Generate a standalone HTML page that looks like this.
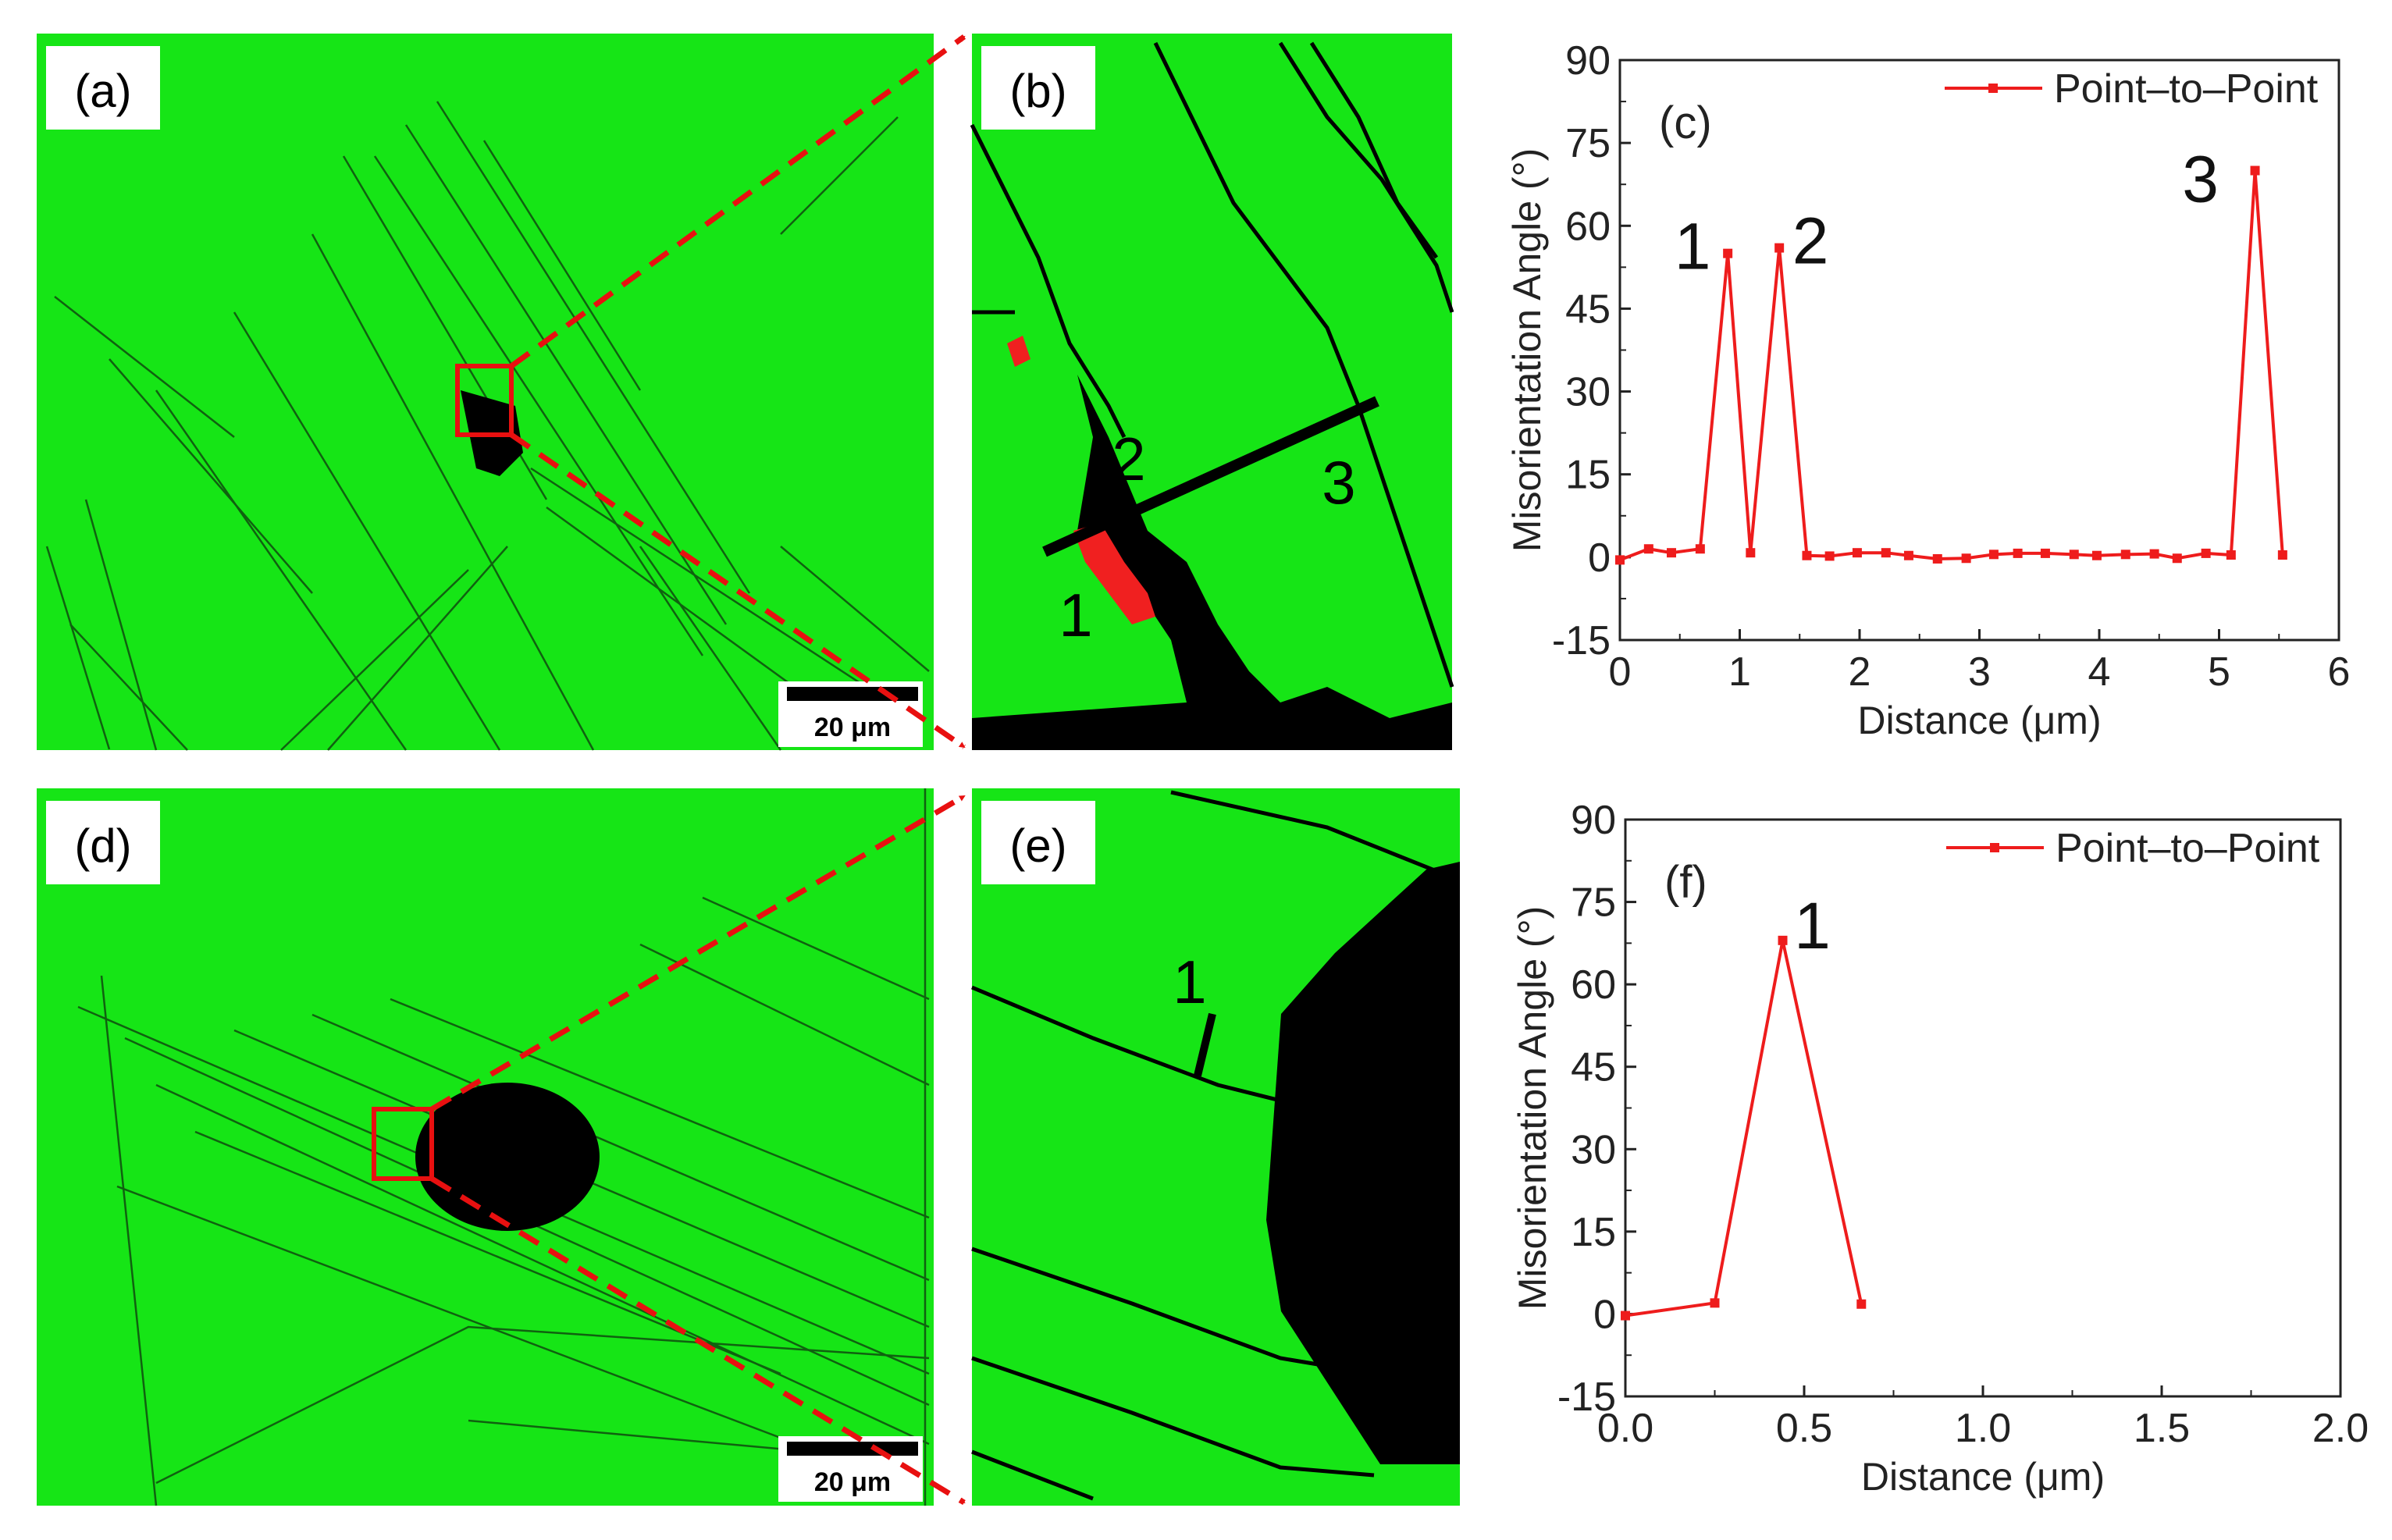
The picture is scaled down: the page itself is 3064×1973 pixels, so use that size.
<!DOCTYPE html>
<html><head><meta charset="utf-8">
<style>
html,body{margin:0;padding:0;background:#fff;}
svg{display:block;}
text{font-family:"Liberation Sans",sans-serif;}
</style></head>
<body>
<svg id="fig" width="3064" height="1973" viewBox="0 0 3064 1973" xmlns="http://www.w3.org/2000/svg">
<defs>
<marker id="arr" markerWidth="8" markerHeight="8" refX="6" refY="4" orient="auto" markerUnits="userSpaceOnUse"><path d="M0,0 L8,4 L0,8 Z" fill="#e81010"/></marker>
</defs>

<!-- Panel (a) -->
<g>
<rect x="47" y="43" width="1149" height="918" fill="#16e516"/>
<g stroke="#0f4a0f" stroke-width="2.5" fill="none" opacity="0.85">
<path d="M560,130 L960,760"/><path d="M520,160 L930,800"/><path d="M480,200 L900,840"/>
<path d="M400,300 L760,961"/><path d="M300,400 L640,961"/><path d="M200,500 L520,961"/>
<path d="M140,460 L400,760"/><path d="M70,380 L300,560"/><path d="M110,640 L200,961"/>
<path d="M680,600 L1140,900"/><path d="M700,650 L1100,940"/><path d="M650,700 L420,961"/>
<path d="M600,730 L360,961"/><path d="M1000,300 L1150,150"/><path d="M60,700 L140,960"/>
<path d="M440,200 L700,640"/><path d="M620,180 L820,500"/><path d="M90,800 L240,961"/>
<path d="M820,700 L1000,961"/><path d="M1000,700 L1190,860"/>
</g>
<path d="M590,500 L660,520 L670,580 L640,610 L610,600 Z" fill="#000"/>
<rect x="586" y="469" width="69" height="88" fill="none" stroke="#e81010" stroke-width="6"/>
<rect x="59" y="59" width="146" height="107" fill="#fff"/>
<text x="132" y="137" font-size="60" text-anchor="middle" fill="#000">(a)</text>
<rect x="997" y="873" width="185" height="84" fill="#fff"/>
<rect x="1008" y="880" width="168" height="18" fill="#000"/>
<text x="1092" y="943" font-size="34" font-weight="bold" text-anchor="middle">20 μm</text>
</g>
<line x1="655" y1="469" x2="1235" y2="47" stroke="#e81010" stroke-width="7" stroke-dasharray="28,16" marker-end="url(#arr)"/>
<line x1="655" y1="557" x2="1235" y2="957" stroke="#e81010" stroke-width="7" stroke-dasharray="28,16" marker-end="url(#arr)"/>

<!-- Panel (b) -->
<g>
<rect x="1245" y="43" width="615" height="918" fill="#16e516"/>
<g stroke="#000" stroke-width="5" fill="none">
<path d="M1245,160 L1330,330 L1370,440 L1420,520 L1440,560"/>
<path d="M1480,55 L1580,260 L1640,340 L1700,420 L1740,520 L1820,760 L1860,880"/>
<path d="M1640,55 L1700,150 L1770,230 L1840,340 L1860,400"/>
<path d="M1680,55 L1740,150 L1790,260 L1840,330"/>
<path d="M1245,400 L1300,400"/>
</g>
<path d="M1380,480 L1400,560 L1390,620 L1380,680 L1420,700 L1460,760 L1500,820 L1520,900 L1245,920 L1245,961 L1860,961 L1860,900 L1780,920 L1700,880 L1640,900 L1600,860 L1560,800 L1520,720 L1470,680 L1420,560 Z" fill="#000"/>
<path d="M1375,680 L1410,670 L1440,720 L1470,760 L1480,790 L1450,800 L1420,760 L1390,720 Z" fill="#f02020"/>
<path d="M1290,440 L1310,430 L1320,460 L1300,470 Z" fill="#f02020"/>
<line x1="1338" y1="707" x2="1764" y2="514" stroke="#000" stroke-width="14"/>
<text x="1378" y="815" font-size="78" text-anchor="middle">1</text>
<text x="1446" y="615" font-size="78" text-anchor="middle">2</text>
<text x="1715" y="645" font-size="78" text-anchor="middle">3</text>
<rect x="1257" y="59" width="146" height="107" fill="#fff"/>
<text x="1330" y="137" font-size="60" text-anchor="middle">(b)</text>
</g>

<!-- Panel (d) -->
<g>
<rect x="47" y="1010" width="1149" height="919" fill="#16e516"/>
<g stroke="#0f4a0f" stroke-width="2.5" fill="none" opacity="0.85">
<path d="M100,1290 L1190,1760"/><path d="M160,1330 L1190,1800"/><path d="M200,1390 L1190,1850"/>
<path d="M300,1320 L1190,1700"/><path d="M400,1300 L1190,1640"/><path d="M500,1280 L1190,1560"/>
<path d="M820,1210 L1190,1390"/><path d="M900,1150 L1190,1280"/><path d="M150,1520 L1100,1880"/>
<path d="M130,1250 L200,1929"/><path d="M1185,1010 L1185,1929"/><path d="M200,1900 L600,1700 L1190,1740"/>
<path d="M250,1450 L1000,1760"/><path d="M600,1820 L1150,1870"/>
</g>
<ellipse cx="650" cy="1482" rx="118" ry="95" fill="#000"/>
<rect x="479" y="1421" width="74" height="89" fill="none" stroke="#e81010" stroke-width="6"/>
<rect x="59" y="1026" width="146" height="107" fill="#fff"/>
<text x="132" y="1104" font-size="60" text-anchor="middle">(d)</text>
<rect x="997" y="1840" width="185" height="84" fill="#fff"/>
<rect x="1008" y="1847" width="168" height="18" fill="#000"/>
<text x="1092" y="1910" font-size="34" font-weight="bold" text-anchor="middle">20 μm</text>
</g>
<line x1="553" y1="1421" x2="1235" y2="1020" stroke="#e81010" stroke-width="7" stroke-dasharray="28,16" marker-end="url(#arr)"/>
<line x1="553" y1="1510" x2="1235" y2="1925" stroke="#e81010" stroke-width="7" stroke-dasharray="28,16" marker-end="url(#arr)"/>

<!-- Panel (e) -->
<g>
<rect x="1245" y="1010" width="625" height="919" fill="#16e516"/>
<g stroke="#000" stroke-width="5" fill="none">
<path d="M1500,1015 L1700,1060 L1850,1120"/>
<path d="M1245,1265 L1400,1330 L1560,1390 L1680,1420"/>
<path d="M1245,1600 L1450,1670 L1640,1740 L1700,1750"/>
<path d="M1245,1740 L1450,1810 L1640,1880 L1760,1890"/>
<path d="M1245,1860 L1400,1920"/>
</g>
<path d="M1870,1104 L1827,1114 L1710,1221 L1641,1299 L1622,1563 L1641,1680 L1768,1876 L1870,1876 Z" fill="#000"/>
<line x1="1534" y1="1378" x2="1553" y2="1299" stroke="#000" stroke-width="10"/>
<text x="1524" y="1285" font-size="78" text-anchor="middle">1</text>
<rect x="1257" y="1026" width="146" height="107" fill="#fff"/>
<text x="1330" y="1104" font-size="60" text-anchor="middle">(e)</text>
</g>

<g id="chartC"></g>
<g id="chartF"></g>
</svg>
<script>
const cDist = [0,0.24,0.43,0.67,0.9,1.09,1.33,1.56,1.75,1.98,2.22,2.41,2.65,2.89,3.12,3.32,3.55,3.79,3.98,4.22,4.46,4.65,4.89,5.1,5.3,5.53];
const cAngle = [-0.5,1.5,0.8,1.5,55,0.8,56,0.3,0.2,0.8,0.8,0.3,-0.3,-0.2,0.5,0.7,0.7,0.5,0.3,0.5,0.6,-0.2,0.7,0.4,70,0.4];
const cXTicks = ["0","1","2","3","4","5","6"];
const fDist = [0,0.25,0.44,0.66];
const fAngle = [-0.3,2,68,1.8];
const fXTicks = ["0.0","0.5","1.0","1.5","2.0"];
const yTicks = [90,75,60,45,30,15,0,-15];

const NS = "http://www.w3.org/2000/svg";
function mk(parent, tag, attrs, txt){
  const e = document.createElementNS(NS, tag);
  for (const k in attrs) e.setAttribute(k, attrs[k]);
  if (txt !== undefined) e.textContent = txt;
  parent.appendChild(e);
  return e;
}
function drawChart(gid, L, R, T, B, xMax, xTicks, dist, angle, label, peaks){
  const g = document.getElementById(gid);
  const sx = v => L + (v / xMax) * (R - L);
  const sy = v => T + (90 - v) / 105 * (B - T);
  const frame = mk(g, "rect", {x:L, y:T, width:R-L, height:B-T, fill:"none", stroke:"#222", "stroke-width":3});
  
  
  yTicks.forEach(v => {
    const y = sy(v);
    mk(g, "line", {x1:L, y1:y, x2:L+14, y2:y, stroke:"#222", "stroke-width":3});
    const t = mk(g, "text", {x:L-12, y:y+18, "font-size":52, "text-anchor":"end", fill:"#222"}, String(v));
    
    
  });
  for (let i = 0; i < yTicks.length - 1; i++){
    const y = sy((yTicks[i] + yTicks[i+1]) / 2);
    mk(g, "line", {x1:L, y1:y, x2:L+8, y2:y, stroke:"#222", "stroke-width":2});
  }
  xTicks.forEach((s, i) => {
    const v = parseFloat(s);
    const x = sx(v);
    mk(g, "line", {x1:x, y1:B, x2:x, y2:B-14, stroke:"#222", "stroke-width":3});
    if (i < xTicks.length - 1){
      const xm = sx(v + parseFloat(xTicks[1]) / 2);
      mk(g, "line", {x1:xm, y1:B, x2:xm, y2:B-8, stroke:"#222", "stroke-width":2});
    }
    const t = mk(g, "text", {x:x, y:B+58, "font-size":52, "text-anchor":"middle", fill:"#222"}, s);
    
    
  });
  const xt = mk(g, "text", {x:(L+R)/2, y:B+120, "font-size":50, "text-anchor":"middle", fill:"#222"}, "Distance (μm)");
  
  
  const yt = mk(g, "text", {x:0, y:0, "font-size":50, "text-anchor":"middle", fill:"#222", transform:`translate(${L-102},${(T+B)/2}) rotate(-90)`}, "Misorientation Angle (°)");
  
  
  const pts = dist.map((d, i) => sx(d) + "," + sy(angle[i])).join(" ");
  const line = mk(g, "polyline", {points:pts, fill:"none", stroke:"#ee1c1c", "stroke-width":4});
  
  
  dist.forEach((d, i) => {
    const m = mk(g, "rect", {x:sx(d)-6, y:sy(angle[i])-6, width:12, height:12, fill:"#ee1c1c"});
    
    
  });
  mk(g, "line", {x1:R-505, y1:T+36, x2:R-380, y2:T+36, stroke:"#ee1c1c", "stroke-width":4});
  mk(g, "rect", {x:R-449, y:T+30, width:12, height:12, fill:"#ee1c1c"});
  const lt = mk(g, "text", {x:R-365, y:T+54, "font-size":52, fill:"#222"}, "Point–to–Point");
  
  
  const pl = mk(g, "text", {x:L+50, y:T+100, "font-size":58, fill:"#222"}, label);
  
  
  peaks.forEach(p => {
    const t = mk(g, "text", {x:sx(dist[p.i]) + p.dx, y:sy(angle[p.i]) + p.dy, "font-size":84, "text-anchor":"middle", fill:"#111"}, p.t);
    
    
  });
}
drawChart("chartC", 2075, 2996, 77, 820, 6, cXTicks, cDist, cAngle, "(c)",
  [{i:4, t:"1", dx:-45, dy:20}, {i:6, t:"2", dx:40, dy:20}, {i:24, t:"3", dx:-70, dy:40}]);
drawChart("chartF", 2082, 2998, 1050, 1789, 2, fXTicks, fDist, fAngle, "(f)",
  [{i:2, t:"1", dx:38, dy:10}]);
</script>
</body></html>
